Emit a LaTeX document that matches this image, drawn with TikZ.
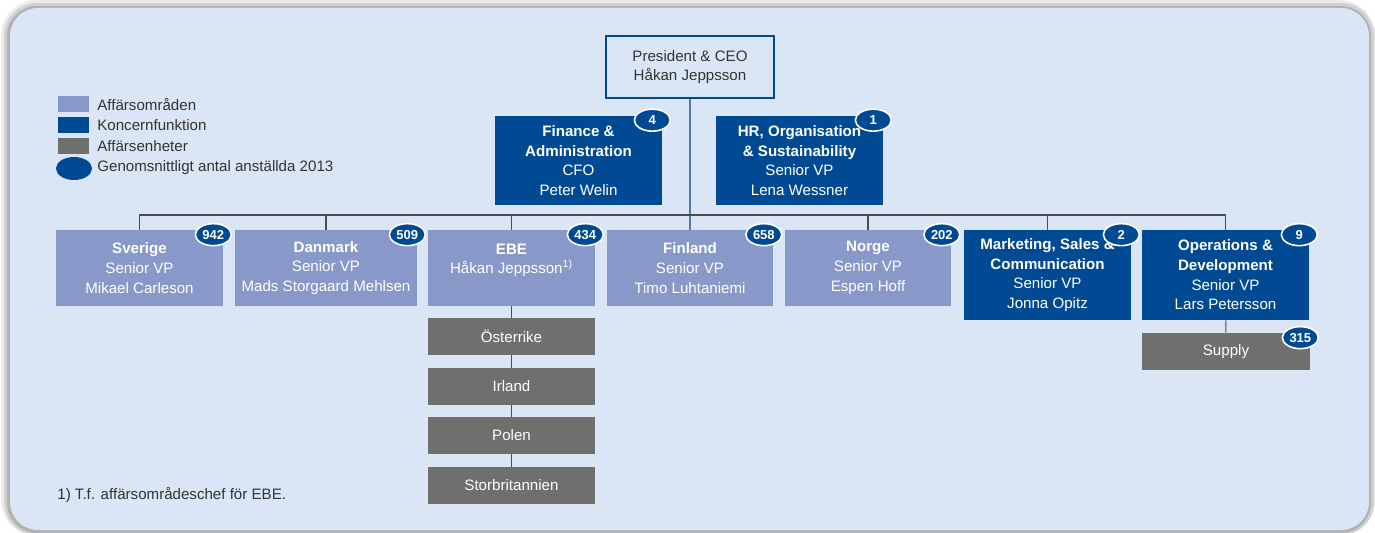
\documentclass[tikz,border=0pt]{standalone}
\usepackage{fontspec}
\setmainfont{Liberation Sans}
\usetikzlibrary{positioning,shapes.geometric}
\definecolor{panel}{HTML}{DAE6F5}
\definecolor{koncern}{HTML}{004A93}
\definecolor{omrade}{HTML}{8898C8}
\definecolor{enhet}{HTML}{6F6F6E}
\definecolor{txt}{HTML}{333333}
\definecolor{stemc}{HTML}{5578AC}

\begin{document}
\begin{tikzpicture}[x=0.02cm, y=-0.02cm,
  font=\fontsize{8.6}{11.2}\selectfont,
  box/.style={rectangle, inner sep=0pt, align=center, text=white, minimum width=3.34cm, minimum height=1.52cm},
  area/.style={box, fill=omrade},
  group/.style={box, fill=koncern, minimum height=1.8cm},
  unit/.style={box, fill=enhet, minimum height=0.74cm},
  badge/.style={ellipse, fill=koncern, draw=white, line width=0.9pt, inner sep=0pt, minimum width=0.72cm, minimum height=0.44cm, text=white, font=\fontsize{7.4}{8}\selectfont\bfseries},
  link/.style={draw=black!70, line width=0.6pt},
  stem/.style={draw=stemc, line width=0.7pt},
  legend/.style={anchor=west, text=txt, inner sep=0pt}]
  \useasboundingbox (0,0) rectangle (1375,533);
  \fill[white] (0,0) rectangle (1375,533);
  \fill[black!8, rounded corners=0.72cm] (1,0) rectangle (1375,536);
  \fill[black!18, rounded corners=0.66cm] (4,3) rectangle (1374,535);
  \fill[black!30, rounded corners=0.6cm] (7,6) rectangle (1371,533);
  \fill[panel, rounded corners=0.56cm] (10,8) rectangle (1369,530);

  \node[box, text=txt, draw=koncern, line width=1.2pt, minimum width=3.36cm, minimum height=1.24cm, fill=panel] (ceo) at (690,67) {President \& CEO\\Håkan Jeppsson};
  \node[group] (finance) at (578.5,160.5) {\textbf{Finance \&}\\\textbf{Administration}\\CFO\\Peter Welin};
  \node[group] (hr) at (799.5,160.5) {\textbf{HR, Organisation}\\\textbf{\& Sustainability}\\Senior VP\\Lena Wessner};

  \node[area] (sverige) at (139.5,268) {\textbf{Sverige}\\Senior VP\\Mikael Carleson};
  \node[area, minimum width=3.64cm] (danmark) at (326,268) {\textbf{Danmark}\\Senior VP\\Mads Storgaard Mehlsen};
  \node[area] (ebe) at (511.5,268) {\textbf{EBE}\\Håkan Jeppsson\textsuperscript{1)}\\[-4pt]\strut};
  \node[area] (finland) at (690,268) {\textbf{Finland}\\Senior VP\\Timo Luhtaniemi};
  \node[area] (norge) at (868,268) {\textbf{Norge}\\Senior VP\\Espen Hoff};
  \node[group] (marketing) at (1047.5,275) {\textbf{Marketing, Sales \&}\\\textbf{Communication}\\Senior VP\\Jonna Opitz};
  \node[group] (operations) at (1225.5,275) {\textbf{Operations \&}\\\textbf{Development}\\Senior VP\\Lars Petersson};
  \node[unit, minimum width=3.36cm] (supply) at (1226,351.5) {Supply};

  \node[unit] (osterrike) at (511.5,336.5) {Österrike};
  \node[unit] (irland) at (511.5,386.5) {Irland};
  \node[unit] (polen) at (511.5,435.5) {Polen};
  \node[unit] (storbritannien) at (511.5,485.5) {Storbritannien};

  \coordinate (bus) at (690,215);
  \draw[stem] (ceo) -- (finland);
  \foreach \n in {sverige,danmark,ebe,norge,marketing,operations}
    \draw[link] (bus) -| (\n);
  \draw[link] (ebe) -- (osterrike) -- (irland) -- (polen) -- (storbritannien);
  \draw[link] (operations) -- (supply);

  \foreach \n/\v in {finance/4,hr/1,sverige/942,danmark/509,ebe/434,finland/658,norge/202,marketing/2,operations/9,supply/315}
    \node[badge] (\n-badge) at ([shift={(-0.2cm,-0.1cm)}]\n.north east) {\v};

  \fill[omrade] (58,96) rectangle (89,112);
  \fill[koncern] (58,117) rectangle (89,133);
  \fill[enhet] (58,138) rectangle (89,154);
  \fill[koncern] (74,168.5) ellipse (0.36cm and 0.23cm);
  \node[legend] (leg-area) at (97,104) {Affärsområden};
  \node[legend] (leg-group) at (97,125.5) {Koncernfunktion};
  \node[legend] (leg-unit) at (97,146.5) {Affärsenheter};
  \node[legend] (leg-badge) at (97,168) {Genomsnittligt antal anställda 2013};

  \node[legend] (note) at (57,495) {1) T.f. affärsområdeschef för EBE.};
\end{tikzpicture}
\end{document}
